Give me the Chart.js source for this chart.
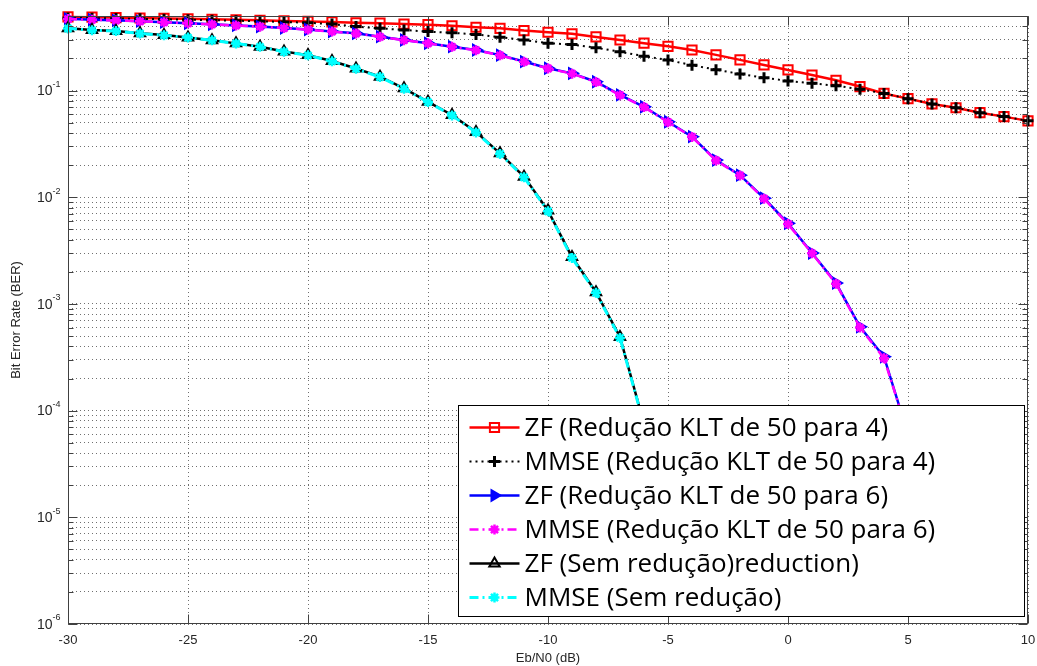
<!DOCTYPE html>
<html>
<head>
<meta charset="utf-8">
<script src="https://cdn.jsdelivr.net/npm/chart.js"></script>
<style>
  html, body { margin: 0; padding: 0; background: #fff; }
  #wrap { width: 1037px; height: 666px; }
</style>
</head>
<body>
<div id="wrap"><canvas id="ber" width="1037" height="666"></canvas></div>
<script>
// Eb/N0 (dB)
const ebn0 = [-30, -29, -28, -27, -26, -25, -24, -23, -22, -21, -20, -19, -18, -17, -16, -15, -14, -13, -12, -11,
  -10, -9, -8, -7, -6, -5, -4, -3, -2, -1, 0, 1, 2, 3, 4, 5, 6, 7, 8, 9, 10];

// BER values
const zfKlt4 = [0.49, 0.487, 0.483, 0.479, 0.475, 0.47, 0.465, 0.46, 0.455, 0.45, 0.445, 0.44, 0.432, 0.428, 0.42, 0.415, 0.405, 0.392, 0.383, 0.365,
  0.352, 0.34, 0.318, 0.298, 0.278, 0.26, 0.24, 0.216, 0.194, 0.174, 0.156, 0.14, 0.125, 0.109, 0.094, 0.084, 0.075, 0.069, 0.062, 0.057, 0.052];
const mmseKlt4 = [0.48, 0.477, 0.474, 0.47, 0.466, 0.462, 0.457, 0.452, 0.446, 0.44, 0.432, 0.42, 0.398, 0.383, 0.37, 0.357, 0.348, 0.336, 0.316, 0.298,
  0.278, 0.27, 0.252, 0.231, 0.21, 0.193, 0.173, 0.157, 0.143, 0.132, 0.123, 0.117, 0.111, 0.103, 0.094, 0.084, 0.075, 0.069, 0.062, 0.057, 0.052];
const zfKlt6 = [0.47, 0.462, 0.455, 0.447, 0.438, 0.428, 0.418, 0.408, 0.398, 0.386, 0.374, 0.358, 0.344, 0.32, 0.298, 0.278, 0.258, 0.24, 0.215, 0.187,
  0.162, 0.145, 0.121, 0.091, 0.0705, 0.051, 0.037, 0.0223, 0.0161, 0.0098, 0.0057, 0.003, 0.00157, 0.00061, 0.00032, 0.00006, null, null, null, null, null];
const mmseKlt6 = [0.468, 0.461, 0.454, 0.446, 0.437, 0.427, 0.417, 0.407, 0.397, 0.385, 0.373, 0.357, 0.343, 0.319, 0.297, 0.277, 0.257, 0.239, 0.214, 0.186,
  0.161, 0.144, 0.12, 0.0905, 0.07, 0.0505, 0.0368, 0.0221, 0.016, 0.0097, 0.0056, 0.00298, 0.00155, 0.0006, 0.00031, 0.00006, null, null, null, null, null];
const zfSem = [0.383, 0.369, 0.362, 0.344, 0.331, 0.315, 0.297, 0.277, 0.258, 0.232, 0.215, 0.189, 0.161, 0.135, 0.105, 0.0785, 0.059, 0.041, 0.0258, 0.0156,
  0.0075, 0.00275, 0.00129, 0.00049, 0.000075, null, null, null, null, null, null, null, null, null, null, null, null, null, null, null, null];
const mmseSem = [0.382, 0.368, 0.361, 0.343, 0.33, 0.314, 0.296, 0.276, 0.257, 0.231, 0.214, 0.188, 0.16, 0.134, 0.104, 0.078, 0.0585, 0.0405, 0.0255, 0.0154,
  0.0074, 0.0027, 0.00127, 0.00048, 0.000074, null, null, null, null, null, null, null, null, null, null, null, null, null, null, null, null];

const seriesLabels = [
  'ZF (Redução KLT de 50 para 4)',
  'MMSE (Redução KLT de 50 para 4)',
  'ZF (Redução KLT de 50 para 6)',
  'MMSE (Redução KLT de 50 para 6)',
  'ZF (Sem redução)reduction)',
  'MMSE (Sem redução)'
];

const xTicks = [-30, -25, -20, -15, -10, -5, 0, 5, 10];
const yDecades = [1e-6, 1e-5, 1e-4, 1e-3, 1e-2, 1e-1];
const yDecadeLabels = ['-6', '-5', '-4', '-3', '-2', '-1'];
const yMin = 1e-6, yMax = 0.5;

// minor log ticks 1..9 x 10^n
const yTickValues = [];
yDecades.forEach(d => {
  for (let m = 1; m <= 9; m++) {
    const v = +(m * d).toPrecision(3);
    if (v <= yMax) yTickValues.push(v);
  }
});

const pts = vals => ebn0.map((x, i) => ({ x, y: vals[i] }));
const isDecade = v => Math.abs(Math.log10(v) - Math.round(Math.log10(v))) < 1e-6;
const tickFont = { family: '"Liberation Sans", Arial, sans-serif', size: 13 };

const axesFrame = {
  id: 'axesFrame',
  afterDatasetsDraw(chart) {
    const { ctx, chartArea: a, scales } = chart;
    const L = Math.round(a.left) + 0.5, R = Math.round(a.right) - 0.5;
    const T = Math.round(a.top) + 0.5, B = Math.round(a.bottom) - 0.5;
    ctx.save();
    ctx.strokeStyle = '#404040';
    ctx.lineWidth = 1;
    ctx.strokeRect(L, T, R - L, B - T);
    ctx.beginPath();
    scales.y.ticks.forEach(t => {
      const y = Math.round(scales.y.getPixelForValue(t.value)) + 0.5;
      const len = isDecade(t.value) ? 9 : 5;
      ctx.moveTo(L, y); ctx.lineTo(L + len, y);
      ctx.moveTo(R, y); ctx.lineTo(R - len, y);
    });
    scales.x.ticks.forEach(t => {
      const x = Math.round(scales.x.getPixelForValue(t.value)) + 0.5;
      ctx.moveTo(x, B); ctx.lineTo(x, B - 9);
      ctx.moveTo(x, T); ctx.lineTo(x, T + 9);
    });
    ctx.stroke();

    // y tick labels 10^n
    ctx.fillStyle = '#262626';
    ctx.textBaseline = 'middle';
    yDecades.forEach((d, i) => {
      const y = scales.y.getPixelForValue(d);
      ctx.font = '14px "Liberation Sans", Arial, sans-serif';
      ctx.textAlign = 'right';
      ctx.fillText('10', L - 16, y + 1);
      ctx.font = '9px "Liberation Sans", Arial, sans-serif';
      ctx.textAlign = 'left';
      ctx.fillText(yDecadeLabels[i], L - 16, y - 6);
    });
    ctx.restore();
  }
};

const legendBox = {
  id: 'legendBox',
  afterDraw(chart) {
    const { ctx, chartArea: a } = chart;
    const w = 566, h = 211;
    const x0 = Math.round(a.right - 4 - w) + 0.5, y0 = Math.round(a.bottom - 8 - h) + 0.5;
    ctx.save();
    ctx.fillStyle = '#fff';
    ctx.fillRect(x0, y0, w, h);
    ctx.strokeStyle = '#000';
    ctx.lineWidth = 1;
    ctx.strokeRect(x0, y0, w, h);
    chart.data.datasets.forEach((ds, i) => {
      const y = y0 + 22 + i * 34;
      ctx.save();
      ctx.strokeStyle = ds.borderColor;
      ctx.lineWidth = ds.borderWidth;
      ctx.setLineDash(ds.borderDash || []);
      ctx.beginPath();
      ctx.moveTo(x0 + 11, y);
      ctx.lineTo(x0 + 61, y);
      ctx.stroke();
      ctx.restore();
      if (Chart.helpers && Chart.helpers.drawPoint) {
        ctx.save();
        ctx.fillStyle = ds.pointBackgroundColor;
        ctx.strokeStyle = ds.pointBorderColor;
        ctx.lineWidth = ds.pointBorderWidth;
        Chart.helpers.drawPoint(ctx, {
          pointStyle: ds.pointStyle, rotation: ds.pointRotation || 0,
          radius: ds.pointRadius, borderWidth: ds.pointBorderWidth
        }, x0 + 36, y);
        ctx.restore();
      }
      ctx.fillStyle = '#000';
      ctx.font = '26px "Open Sans", "Noto Sans", sans-serif';
      ctx.textAlign = 'left';
      ctx.textBaseline = 'middle';
      ctx.fillText(ds.label, x0 + 66, y + 1);
    });
    ctx.restore();
  }
};

const dashDot = [9, 4, 2, 4];
const datasets = [
  { label: seriesLabels[0], data: pts(zfKlt4), borderColor: '#ff0000', borderWidth: 2.5,
    pointStyle: 'rect', pointRadius: 6.5, pointBorderWidth: 2, pointBorderColor: '#ff0000', pointBackgroundColor: 'rgba(255,255,255,0)' },
  { label: seriesLabels[1], data: pts(mmseKlt4), borderColor: '#000000', borderWidth: 2, borderDash: [2, 4],
    pointStyle: 'cross', pointRadius: 5.5, pointBorderWidth: 3, pointBorderColor: '#000000', pointBackgroundColor: '#000000' },
  { label: seriesLabels[2], data: pts(zfKlt6), borderColor: '#0000ff', borderWidth: 2.5,
    pointStyle: 'triangle', pointRotation: 90, pointRadius: 6, pointBorderWidth: 2, pointBorderColor: '#0000ff', pointBackgroundColor: '#0000ff' },
  { label: seriesLabels[3], data: pts(mmseKlt6), borderColor: '#ff00ff', borderWidth: 2.5, borderDash: dashDot,
    pointStyle: 'star', pointRadius: 5, pointBorderWidth: 2.5, pointBorderColor: '#ff00ff', pointBackgroundColor: '#ff00ff' },
  { label: seriesLabels[4], data: pts(zfSem), borderColor: '#000000', borderWidth: 2.5,
    pointStyle: 'triangle', pointRadius: 6, pointBorderWidth: 2, pointBorderColor: '#000000', pointBackgroundColor: 'rgba(255,255,255,0)' },
  { label: seriesLabels[5], data: pts(mmseSem), borderColor: '#00ffff', borderWidth: 3, borderDash: dashDot,
    pointStyle: 'star', pointRadius: 5, pointBorderWidth: 2.5, pointBorderColor: '#00ffff', pointBackgroundColor: '#00ffff' }
].map((ds, i) => Object.assign(ds, { order: 6 - i, clip: false, tension: 0, spanGaps: false, fill: false }));

new Chart(document.getElementById('ber'), {
  type: 'line',
  data: { datasets },
  options: {
    responsive: false,
    animation: false,
    layout: { padding: { left: 0, right: 9, top: 16, bottom: 0 } },
    plugins: { legend: { display: false }, tooltip: { enabled: false } },
    scales: {
      x: {
        type: 'linear', min: -30, max: 10,
        afterBuildTicks: s => { s.ticks = xTicks.map(v => ({ value: v })); },
        afterFit: s => { s.height = 42; s.paddingLeft = 0; s.paddingRight = 0; },
        ticks: { padding: 9, color: '#262626', font: tickFont, maxRotation: 0, callback: v => String(v) },
        grid: { color: '#707070', lineWidth: 1, drawTicks: false },
        border: { display: false, dash: [1, 3] },
        title: { display: true, text: 'Eb/N0 (dB)', color: '#262626', font: tickFont, padding: { top: 0, bottom: 0 } }
      },
      y: {
        type: 'logarithmic', min: yMin, max: yMax,
        afterBuildTicks: s => { s.ticks = yTickValues.map(v => ({ value: v })); },
        afterFit: s => { s.width = 68; s.paddingTop = 0; s.paddingBottom = 0; },
        ticks: { display: false },
        grid: { color: '#707070', lineWidth: 1, drawTicks: false },
        border: { display: false, dash: [1, 3] },
        title: { display: true, text: 'Bit Error Rate (BER)', color: '#262626', font: tickFont, padding: { top: 9, bottom: 0 } }
      }
    }
  },
  plugins: [axesFrame, legendBox]
});
</script>
</body>
</html>
